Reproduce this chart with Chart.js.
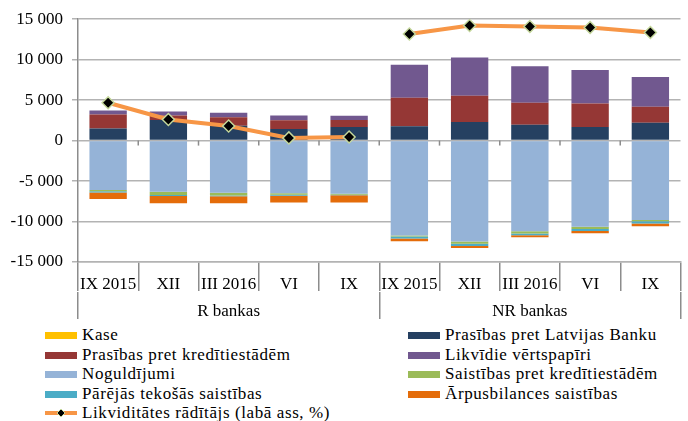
<!DOCTYPE html>
<html>
<head>
<meta charset="utf-8">
<script src="https://cdn.jsdelivr.net/npm/chart.js@4"></script>
<style>
  html, body { margin: 0; padding: 0; background: #fff; }
  #wrap { position: absolute; left: 0; top: 0; width: 688px; height: 322px; }
  #legend { position: absolute; left: 0; top: 322px; width: 688px; height: 99px;
    font-family: 'Times New Roman', 'Liberation Serif', serif; font-size: 17px; color: #000; }
  .item { position: absolute; height: 20px; line-height: 20px; white-space: nowrap; }
  .sw { position: absolute; left: 0; top: 7px; width: 32px; height: 7px; }
  .txt { position: absolute; left: 37px; top: 0; letter-spacing: 0.6px; }
</style>
</head>
<body>
<div id="wrap"><canvas id="chart"></canvas></div>
<div id="legend"></div>
<script>
const labels = ['IX 2015', 'XII', 'III 2016', 'VI', 'IX', 'IX 2015', 'XII', 'III 2016', 'VI', 'IX'];
const groups = ['R bankas', 'NR bankas'];

const kase = [0, 0, 0, 0, 0, 0, 0, 0, 0, 0];
const prasibasLB = [1480, 2550, 1850, 1430, 1670, 1760, 2290, 1970, 1670, 2210];
const prasibasKI = [1760, 550, 1050, 1070, 870, 3530, 3240, 2700, 2920, 1970];
const vertspapiri = [480, 500, 540, 610, 530, 4095, 4750, 4510, 4140, 3690];
const noguldijumi = [-6100, -6320, -6440, -6520, -6560, -11730, -12470, -11190, -10630, -9800];
const saistibasKI = [-170, -400, -330, -160, -120, -120, -290, -290, -290, -160];
const parejas = [-150, -120, -120, -120, -80, -250, -250, -200, -250, -290];
const arpusbilances = [-790, -900, -860, -860, -900, -330, -250, -250, -290, -330];
const likviditate = [65.6, 58.7, 56.0, 51.1, 51.5, 93.9, 97.4, 97.0, 96.6, 94.5];
const lastR = 4; // line is broken between the two bank groups

const serif = "'Times New Roman', 'Liberation Serif', serif";
Chart.defaults.font.family = serif;
Chart.defaults.color = '#000';

const tickFont = { family: serif, size: 17 };
const fmt = v => (v < 0 ? '-' : '') + Math.abs(v).toString().replace(/\B(?=(\d{3})+(?!\d))/g, ' ');

const bar = (label, data, color) => ({ type: 'bar', label, data, backgroundColor: color, borderWidth: 0, order: 1,
  categoryPercentage: 1, barPercentage: 0.62 });

// small ticks on the zero line, between categories
const zeroTicks = {
  id: 'zeroTicks',
  beforeDatasetsDraw(chart) {
    const { ctx, scales: { x, y } } = chart;
    const y0 = y.getPixelForValue(0);
    ctx.save();
    ctx.strokeStyle = '#8c8c8c';
    ctx.lineWidth = 1.5;
    for (let i = 1; i < labels.length; i++) {
      const px = (x.getPixelForValue(i - 1) + x.getPixelForValue(i)) / 2;
      ctx.beginPath(); ctx.moveTo(px, y0); ctx.lineTo(px, y0 + 5); ctx.stroke();
    }
    ctx.restore();
  }
};

const chart = new Chart(document.getElementById('chart'), {
  data: {
    labels,
    datasets: [
      bar('Kase', kase, '#FFC000'),
      bar('Prasības pret Latvijas Banku', prasibasLB, '#254061'),
      bar('Prasības pret kredītiestādēm', prasibasKI, '#953735'),
      bar('Likvīdie vērtspapīri', vertspapiri, '#71588F'),
      bar('Noguldījumi', noguldijumi, '#95B3D7'),
      bar('Saistības pret kredītiestādēm', saistibasKI, '#9BBB59'),
      bar('Pārējās tekošās saistības', parejas, '#4BACC6'),
      bar('Ārpusbilances saistības', arpusbilances, '#E46C0A'),
      { type: 'line', label: 'Likviditātes rādītājs (labā ass, %)', data: likviditate, yAxisID: 'y1', order: 0,
        borderColor: '#F79646', borderWidth: 4, tension: 0,
        segment: { borderColor: c => c.p0DataIndex === lastR ? 'rgba(0,0,0,0)' : undefined },
        pointStyle: 'rectRot', pointRadius: 6, pointBackgroundColor: '#000', pointBorderColor: '#C4D79B', pointBorderWidth: 1.5 }
    ]
  },
  options: {
    responsive: true,
    maintainAspectRatio: false,
    animation: false,
    layout: { padding: { top: 18, right: 0, left: 0, bottom: 0 } },
    plugins: { legend: { display: false }, tooltip: { enabled: false } },
    scales: {
      x: { stacked: true, weight: 0,
        grid: { offset: true, drawOnChartArea: false, tickLength: 29, color: '#8c8c8c', lineWidth: 1.5 },
        border: { color: '#b3b3b3', width: 1.5 },
        ticks: { font: tickFont, padding: -17, maxRotation: 0, autoSkip: false },
        afterFit: s => { s.height = 30; } },
      xg: { type: 'category', labels: groups, position: 'bottom', offset: true, weight: 1,
        grid: { offset: true, drawOnChartArea: false, tickLength: 27, color: '#8c8c8c', lineWidth: 1.5 },
        border: { display: false },
        ticks: { font: tickFont, padding: -18, maxRotation: 0 },
        afterFit: s => { s.height = 30; } },
      y: { stacked: true, min: -15000, max: 15000,
        ticks: { stepSize: 5000, callback: fmt, font: tickFont, padding: 9 },
        grid: { color: '#b3b3b3', lineWidth: 1.5, tickLength: 6 },
        border: { color: '#8c8c8c', width: 1.5 },
        afterFit: s => { s.width = 78; } },
      y1: { display: false, min: 0, max: 100, position: 'right' }
    }
  },
  plugins: [zeroTicks]
});

// legend in two columns, line series last
const legend = document.getElementById('legend');
const ds = chart.data.datasets;
const cols = [45, 408];
ds.forEach((d, i) => {
  const el = document.createElement('div');
  el.className = 'item';
  el.style.left = cols[i % 2] + 'px';
  el.style.top = (3 + Math.floor(i / 2) * 19.5) + 'px';
  let sw;
  if (d.type === 'line') {
    sw = '<svg class="sw" style="top:3px;height:14px" width="32" height="14">' +
      '<line x1="0" y1="7" x2="32" y2="7" stroke="' + d.borderColor + '" stroke-width="4"/>' +
      '<polygon points="16,3 20,7 16,11 12,7" fill="#000" stroke="' + d.pointBorderColor + '" stroke-width="1"/></svg>';
  } else {
    sw = '<span class="sw" style="background:' + d.backgroundColor + '"></span>';
  }
  el.innerHTML = sw + '<span class="txt">' + d.label + '</span>';
  legend.appendChild(el);
});
</script>
</body>
</html>
